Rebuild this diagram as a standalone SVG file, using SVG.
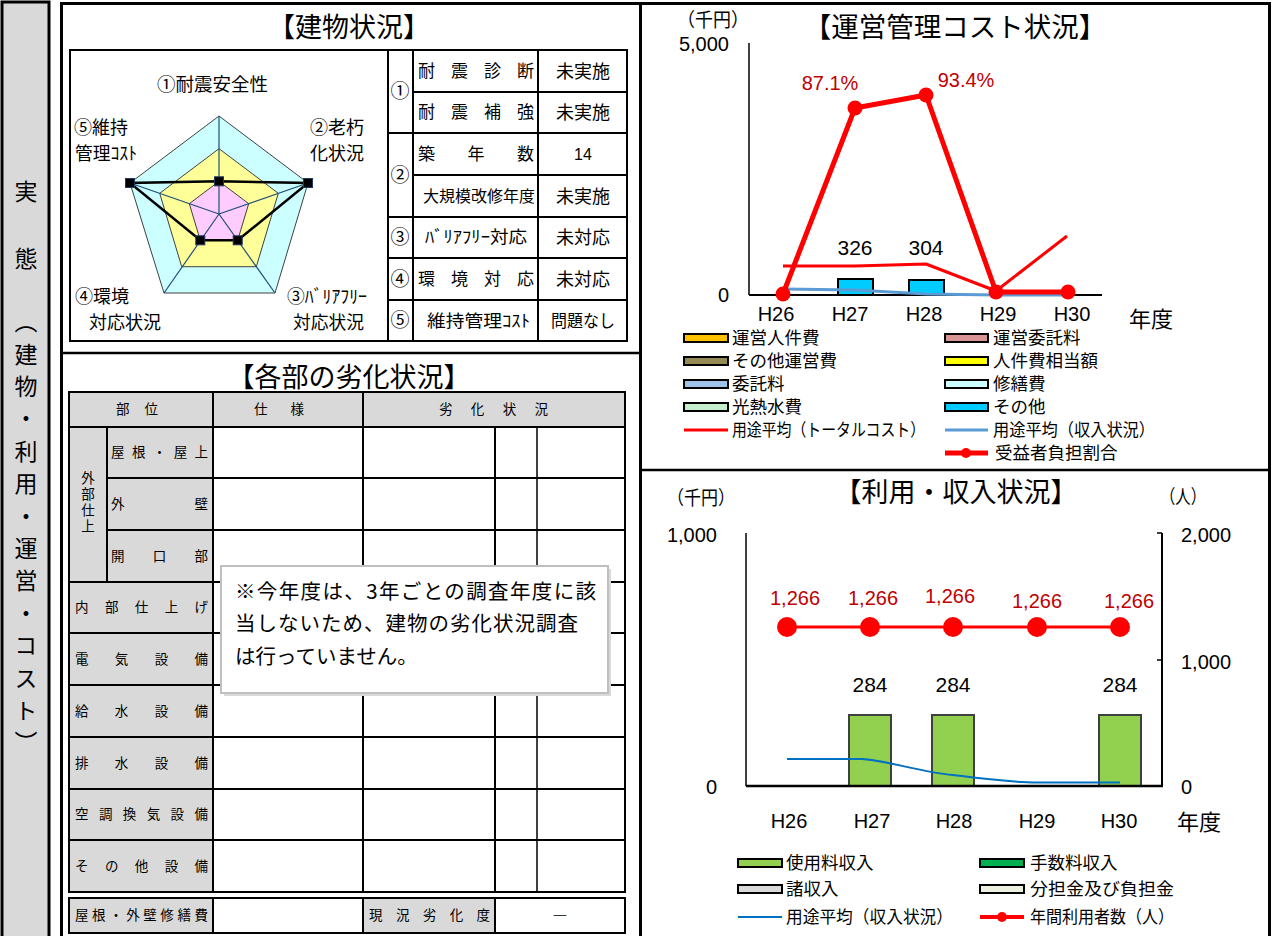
<svg xmlns="http://www.w3.org/2000/svg" width="1273" height="936" viewBox="0 0 1273 936">
<style>
.jp{font-family:"Noto Sans CJK JP","Noto Sans",sans-serif;fill:#000}
.num{font-family:"Liberation Sans","Noto Sans CJK JP",sans-serif;fill:#000}
.mid{text-anchor:middle}
.end{text-anchor:end}
.red{fill:#c00000}
.gray{fill:#d9d9d9}
.cell{fill:none;stroke:#000;stroke-width:2}
.thin{stroke:#000;stroke-width:1.5;fill:none}
.sw{stroke:#000;stroke-width:2}
.lab{font-size:13.5px}
.rl{font-size:18px}
.leg{font-size:17.5px}
.ax{font-size:20px}
</style>

<g id="side">
  <rect x="2" y="2" width="47" height="945" fill="#d9d9d9" stroke="#000" stroke-width="3"/>
  <text class="jp mid" x="26" y="200" font-size="23">実</text>
  <text class="jp mid" x="26" y="267" font-size="23">態</text>
  <text class="jp" x="26" y="310" font-size="23" letter-spacing="9.4" style="writing-mode:vertical-rl">（建物・利用・運営・コスト）</text>
</g>

<g id="frame">
  <rect x="61.5" y="3.5" width="1208" height="945" fill="none" stroke="#000" stroke-width="3"/>
  <line x1="640.5" y1="3" x2="640.5" y2="936" stroke="#000" stroke-width="3"/>
  <line x1="61" y1="353" x2="640" y2="353" stroke="#000" stroke-width="2.5"/>
  <line x1="640" y1="470" x2="1270" y2="470" stroke="#000" stroke-width="2.5"/>
</g>

<g id="building-status">
  <text class="jp mid" x="349" y="37" font-size="27">【建物状況】</text>
  <rect x="70" y="50" width="318" height="291" class="cell"/>
  <g id="radar">
    <polygon points="219,116 308,183 275,293 164,293 130,183" fill="#ccffff" stroke="#404040" stroke-width="1"/>
    <polygon points="219,148.7 278.3,193.3 256.3,266.7 181.7,266.7 159.7,193.3" fill="#ffff99" stroke="#404040" stroke-width="1"/>
    <polygon points="219,181.3 248.7,203.7 237.7,240.3 200.3,240.3 189.3,203.7" fill="#ffccff" stroke="#404040" stroke-width="1"/>
    <g stroke="#1f4e79" stroke-width="1.2">
      <line x1="219" y1="214" x2="219" y2="116"/>
      <line x1="219" y1="214" x2="308" y2="183"/>
      <line x1="219" y1="214" x2="275" y2="293"/>
      <line x1="219" y1="214" x2="164" y2="293"/>
      <line x1="219" y1="214" x2="130" y2="183"/>
    </g>
    <polygon points="219,181.3 308,183 237.7,240.3 200.3,240.3 130,183" fill="none" stroke="#000" stroke-width="2.5"/>
    <g fill="#000" stroke="#1f3864" stroke-width="1">
      <rect x="214.5" y="176.8" width="9" height="9"/>
      <rect x="303.5" y="178.5" width="9" height="9"/>
      <rect x="233.2" y="235.8" width="9" height="9"/>
      <rect x="195.8" y="235.8" width="9" height="9"/>
      <rect x="125.5" y="178.5" width="9" height="9"/>
    </g>
    <text class="jp rl" x="157" y="91" textLength="111" lengthAdjust="spacingAndGlyphs">①耐震安全性</text>
    <text class="jp rl" x="74" y="134">⑤維持</text>
    <text class="jp rl" x="75" y="160" textLength="62" lengthAdjust="spacingAndGlyphs">管理ｺｽﾄ</text>
    <text class="jp rl end" x="364" y="134">②老朽</text>
    <text class="jp rl end" x="364" y="160">化状況</text>
    <text class="jp rl" x="75" y="303">④環境</text>
    <text class="jp rl" x="89" y="329" textLength="72" lengthAdjust="spacingAndGlyphs">対応状況</text>
    <text class="jp rl" x="287" y="303" textLength="80" lengthAdjust="spacingAndGlyphs">③ﾊﾞﾘｱﾌﾘｰ</text>
    <text class="jp rl" x="293" y="329" textLength="71" lengthAdjust="spacingAndGlyphs">対応状況</text>
  </g>
  <g id="status-table">
    <rect x="388" y="50" width="239" height="291" class="cell"/>
    <line x1="413" y1="50" x2="413" y2="341" class="cell"/>
    <line x1="538" y1="50" x2="538" y2="341" class="cell"/>
    <line x1="413" y1="92" x2="627" y2="92" class="cell"/>
    <line x1="388" y1="133" x2="627" y2="133" class="cell"/>
    <line x1="413" y1="175" x2="627" y2="175" class="cell"/>
    <line x1="388" y1="217" x2="627" y2="217" class="cell"/>
    <line x1="388" y1="258" x2="627" y2="258" class="cell"/>
    <line x1="388" y1="300" x2="627" y2="300" class="cell"/>
    <text class="jp mid" x="400" y="98" font-size="19">①</text>
    <text class="jp mid" x="400" y="182" font-size="19">②</text>
    <text class="jp mid" x="400" y="244" font-size="19">③</text>
    <text class="jp mid" x="400" y="286" font-size="19">④</text>
    <text class="jp mid" x="400" y="327" font-size="19">⑤</text>
    <text class="jp" x="418" y="77" font-size="17" textLength="116" lengthAdjust="spacing">耐震診断</text>
    <text class="jp" x="418" y="118" font-size="17" textLength="116" lengthAdjust="spacing">耐震補強</text>
    <text class="jp" x="418" y="160" font-size="17" textLength="116" lengthAdjust="spacing">築年数</text>
    <text class="jp" x="423" y="202" font-size="15.5" textLength="112" lengthAdjust="spacingAndGlyphs">大規模改修年度</text>
    <text class="jp" x="425" y="243" font-size="17" textLength="102" lengthAdjust="spacingAndGlyphs">ﾊﾞﾘｱﾌﾘｰ対応</text>
    <text class="jp" x="418" y="285" font-size="17" textLength="116" lengthAdjust="spacing">環境対応</text>
    <text class="jp" x="427" y="327" font-size="17" textLength="103" lengthAdjust="spacingAndGlyphs">維持管理ｺｽﾄ</text>
    <text class="jp mid" x="583" y="78" font-size="18">未実施</text>
    <text class="jp mid" x="583" y="119" font-size="18">未実施</text>
    <text class="num mid" x="583" y="160" font-size="16">14</text>
    <text class="jp mid" x="583" y="203" font-size="18">未実施</text>
    <text class="jp mid" x="583" y="244" font-size="18">未対応</text>
    <text class="jp mid" x="583" y="286" font-size="18">未対応</text>
    <text class="jp mid" x="583" y="327" font-size="17" textLength="64" lengthAdjust="spacingAndGlyphs">問題なし</text>
  </g>
</g>

<g id="deterioration">
  <text class="jp mid" x="349" y="387" font-size="27">【各部の劣化状況】</text>
  <rect x="69" y="392" width="144" height="500" class="gray"/>
  <rect x="69" y="392" width="556" height="35" class="gray"/>
  <rect x="69" y="898" width="144" height="35" class="gray"/>
  <rect x="363" y="898" width="132" height="35" class="gray"/>
  <rect x="69" y="392" width="556" height="500" class="cell"/>
  <rect x="69" y="898" width="556" height="35" class="cell"/>
  <line x1="69" y1="427" x2="625" y2="427" class="cell"/>
  <line x1="107" y1="478" x2="625" y2="478" class="cell"/>
  <line x1="107" y1="530" x2="625" y2="530" class="cell"/>
  <line x1="69" y1="582" x2="625" y2="582" class="cell"/>
  <line x1="69" y1="633" x2="625" y2="633" class="cell"/>
  <line x1="69" y1="685" x2="625" y2="685" class="cell"/>
  <line x1="69" y1="737" x2="625" y2="737" class="cell"/>
  <line x1="69" y1="789" x2="625" y2="789" class="cell"/>
  <line x1="69" y1="840" x2="625" y2="840" class="cell"/>
  <line x1="107" y1="427" x2="107" y2="582" class="cell"/>
  <line x1="213" y1="392" x2="213" y2="892" class="cell"/>
  <line x1="363" y1="392" x2="363" y2="892" class="cell"/>
  <line x1="495" y1="427" x2="495" y2="892" class="cell"/>
  <line x1="537" y1="427" x2="537" y2="892" class="thin"/>
  <line x1="213" y1="898" x2="213" y2="933" class="cell"/>
  <line x1="363" y1="898" x2="363" y2="933" class="cell"/>
  <line x1="495" y1="898" x2="495" y2="933" class="cell"/>
  <text class="jp lab" x="116" y="414" textLength="42" lengthAdjust="spacing">部位</text>
  <text class="jp lab" x="254" y="414" textLength="50" lengthAdjust="spacing">仕様</text>
  <text class="jp lab" x="439" y="414" textLength="109" lengthAdjust="spacing">劣化状況</text>
  <text class="jp lab" x="88" y="471" letter-spacing="2.5" style="writing-mode:vertical-rl">外部仕上</text>
  <text class="jp lab" x="111" y="457" textLength="97" lengthAdjust="spacing">屋根・屋上</text>
  <text class="jp lab" x="111" y="509" textLength="97" lengthAdjust="spacing">外壁</text>
  <text class="jp lab" x="111" y="561" textLength="97" lengthAdjust="spacing">開口部</text>
  <text class="jp lab" x="75" y="612" textLength="133" lengthAdjust="spacing">内部仕上げ</text>
  <text class="jp lab" x="75" y="664" textLength="133" lengthAdjust="spacing">電気設備</text>
  <text class="jp lab" x="75" y="716" textLength="133" lengthAdjust="spacing">給水設備</text>
  <text class="jp lab" x="75" y="768" textLength="133" lengthAdjust="spacing">排水設備</text>
  <text class="jp lab" x="75" y="819" textLength="133" lengthAdjust="spacing">空調換気設備</text>
  <text class="jp lab" x="75" y="871" textLength="133" lengthAdjust="spacing">その他設備</text>
  <text class="jp lab" x="75" y="920" textLength="133" lengthAdjust="spacing">屋根・外壁修繕費</text>
  <text class="jp lab" x="369" y="920" textLength="121" lengthAdjust="spacing">現況劣化度</text>
  <text class="jp mid" x="560" y="921" font-size="15">―</text>
</g>

<g id="note">
  <rect x="224" y="569" width="387" height="127" fill="#d9d9d9"/>
  <rect x="221" y="566" width="387" height="127" fill="#fff" stroke="#bfbfbf" stroke-width="2"/>
  <text class="jp" x="235" y="599" font-size="20.5" textLength="361" lengthAdjust="spacing">※今年度は、3年ごとの調査年度に該</text>
  <text class="jp" x="235" y="631" font-size="20.5" textLength="343" lengthAdjust="spacing">当しないため、建物の劣化状況調査</text>
  <text class="jp" x="235" y="664" font-size="20.5">は行っていません。</text>
</g>

<g id="cost-chart">
  <text class="jp" x="677" y="27" font-size="19" textLength="72" lengthAdjust="spacingAndGlyphs">（千円）</text>
  <text class="jp mid" x="955" y="37" font-size="27.5">【運営管理コスト状況】</text>
  <text class="num end" x="729" y="51" font-size="20">5,000</text>
  <text class="num end" x="729" y="302" font-size="20">0</text>
  <line x1="749" y1="43" x2="749" y2="295" class="thin"/>
  <rect x="838" y="279" width="35" height="16" fill="#00ccff" stroke="#000" stroke-width="2"/>
  <rect x="909" y="280" width="35" height="15" fill="#00ccff" stroke="#000" stroke-width="2"/>
  <line x1="749" y1="295" x2="1102" y2="295" stroke="#000" stroke-width="2"/>
  <g id="cost-series" fill="none" stroke-linejoin="round">
    <polyline points="783,289 855,290 926,294 996,295 1068,295" stroke="#5b9bd5" stroke-width="3"/>
    <polyline points="783,266 855,266 926,264 996,291 1067,236" stroke="#ff0000" stroke-width="3"/>
    <polyline points="783,294 855,108 926,95 996,292 1068,292" stroke="#ff0000" stroke-width="5"/>
    <g fill="#ff0000">
      <circle cx="783" cy="294" r="7.5"/>
      <circle cx="855" cy="108" r="7.5"/>
      <circle cx="926" cy="95" r="7.5"/>
      <circle cx="996" cy="292" r="7.5"/>
      <circle cx="1068" cy="292" r="7.5"/>
    </g>
  </g>
  <text class="num mid red" x="830" y="90" font-size="20">87.1%</text>
  <text class="num mid red" x="966" y="87" font-size="20">93.4%</text>
  <text class="num mid" x="855" y="255" font-size="21">326</text>
  <text class="num mid" x="926" y="255" font-size="21">304</text>
  <text class="num mid ax" x="776" y="321">H26</text>
  <text class="num mid ax" x="850" y="321">H27</text>
  <text class="num mid ax" x="924" y="321">H28</text>
  <text class="num mid ax" x="998" y="321">H29</text>
  <text class="num mid ax" x="1072" y="321">H30</text>
  <text class="jp" x="1129" y="327" font-size="22">年度</text>
</g>

<g id="cost-legend">
  <rect x="684" y="334" width="44" height="8" fill="#ffc000" class="sw"/>
  <text class="jp leg" x="732" y="344">運営人件費</text>
  <rect x="945" y="334" width="43" height="8" fill="#d99594" class="sw"/>
  <text class="jp leg" x="993" y="344">運営委託料</text>
  <rect x="684" y="357" width="44" height="8" fill="#948a54" class="sw"/>
  <text class="jp leg" x="732" y="367">その他運営費</text>
  <rect x="945" y="357" width="43" height="8" fill="#ffff00" class="sw"/>
  <text class="jp leg" x="993" y="367">人件費相当額</text>
  <rect x="684" y="380" width="44" height="8" fill="#9dc3e6" class="sw"/>
  <text class="jp leg" x="732" y="390">委託料</text>
  <rect x="945" y="380" width="43" height="8" fill="#ccffff" class="sw"/>
  <text class="jp leg" x="993" y="390">修繕費</text>
  <rect x="684" y="403" width="44" height="8" fill="#c6efce" class="sw"/>
  <text class="jp leg" x="732" y="413">光熱水費</text>
  <rect x="945" y="403" width="43" height="8" fill="#00ccff" class="sw"/>
  <text class="jp leg" x="993" y="413">その他</text>
  <line x1="684" y1="430" x2="728" y2="430" stroke="#ff0000" stroke-width="3"/>
  <text class="jp leg" x="732" y="436" textLength="193" lengthAdjust="spacingAndGlyphs">用途平均（トータルコスト）</text>
  <line x1="945" y1="430" x2="988" y2="430" stroke="#5b9bd5" stroke-width="3"/>
  <text class="jp leg" x="993" y="436" textLength="162" lengthAdjust="spacingAndGlyphs">用途平均（収入状況）</text>
  <line x1="945" y1="453" x2="988" y2="453" stroke="#ff0000" stroke-width="5"/>
  <circle cx="966" cy="453" r="5" fill="#ff0000"/>
  <text class="jp leg" x="995" y="459">受益者負担割合</text>
</g>

<g id="usage-chart">
  <text class="jp" x="667" y="505" font-size="19" textLength="68" lengthAdjust="spacingAndGlyphs">（千円）</text>
  <text class="jp mid" x="956" y="502" font-size="27">【利用・収入状況】</text>
  <text class="jp" x="1160" y="504" font-size="19" textLength="46" lengthAdjust="spacingAndGlyphs">（人）</text>
  <text class="num end" x="717" y="542" font-size="20">1,000</text>
  <text class="num end" x="717" y="794" font-size="20">0</text>
  <text class="num" x="1181" y="542" font-size="20">2,000</text>
  <text class="num" x="1181" y="669" font-size="20">1,000</text>
  <text class="num" x="1181" y="794" font-size="20">0</text>
  <line x1="746" y1="533" x2="746" y2="786" class="thin"/>
  <line x1="1162" y1="533" x2="1162" y2="786" stroke="#000" stroke-width="2"/>
  <g stroke="#000" stroke-width="1.5">
    <line x1="1157" y1="533" x2="1162" y2="533"/>
    <line x1="1157" y1="660" x2="1162" y2="660"/>
  </g>
  <g fill="#92d050" stroke="#404040" stroke-width="2">
    <rect x="849" y="715" width="42" height="71"/>
    <rect x="932" y="715" width="42" height="71"/>
    <rect x="1099" y="715" width="42" height="71"/>
  </g>
  <line x1="746" y1="786" x2="1163" y2="786" stroke="#000" stroke-width="2.5"/>
  <g id="usage-series" fill="none">
    <path d="M787,759 L862,759 C885,760 920,772 953,775 C985,779 1010,782.5 1037,782.5 L1120,782.5" stroke="#0070c0" stroke-width="2"/>
    <line x1="787" y1="627" x2="1120" y2="627" stroke="#ff0000" stroke-width="3"/>
    <g fill="#ff0000">
      <ellipse cx="787" cy="627" rx="10" ry="10"/>
      <ellipse cx="870" cy="627" rx="10" ry="10"/>
      <ellipse cx="953" cy="627" rx="10" ry="10"/>
      <ellipse cx="1037" cy="627" rx="10" ry="10"/>
      <ellipse cx="1120" cy="627" rx="10" ry="10"/>
    </g>
  </g>
  <text class="num mid red" x="795" y="605" font-size="20">1,266</text>
  <text class="num mid red" x="873" y="605" font-size="20">1,266</text>
  <text class="num mid red" x="950" y="603" font-size="20">1,266</text>
  <text class="num mid red" x="1037" y="608" font-size="20">1,266</text>
  <text class="num mid red" x="1129" y="608" font-size="20">1,266</text>
  <text class="num mid" x="870" y="692" font-size="21">284</text>
  <text class="num mid" x="953" y="692" font-size="21">284</text>
  <text class="num mid" x="1120" y="692" font-size="21">284</text>
  <text class="num mid ax" x="789" y="828">H26</text>
  <text class="num mid ax" x="872" y="828">H27</text>
  <text class="num mid ax" x="954" y="828">H28</text>
  <text class="num mid ax" x="1037" y="828">H29</text>
  <text class="num mid ax" x="1119" y="828">H30</text>
  <text class="jp mid" x="1199" y="830" font-size="22">年度</text>
</g>

<g id="usage-legend">
  <rect x="738" y="859" width="44" height="8" fill="#92d050" class="sw"/>
  <text class="jp leg" x="786" y="869">使用料収入</text>
  <rect x="980" y="859" width="44" height="8" fill="#00b050" class="sw"/>
  <text class="jp leg" x="1030" y="869">手数料収入</text>
  <rect x="738" y="885" width="44" height="8" fill="#d9d9d9" class="sw"/>
  <text class="jp leg" x="786" y="895">諸収入</text>
  <rect x="980" y="885" width="44" height="8" fill="#ebf1de" class="sw"/>
  <text class="jp leg" x="1030" y="895" textLength="144" lengthAdjust="spacingAndGlyphs">分担金及び負担金</text>
  <line x1="738" y1="917" x2="782" y2="917" stroke="#0070c0" stroke-width="2"/>
  <text class="jp leg" x="786" y="923" textLength="167" lengthAdjust="spacingAndGlyphs">用途平均（収入状況）</text>
  <line x1="980" y1="917" x2="1024" y2="917" stroke="#ff0000" stroke-width="4"/>
  <circle cx="1002" cy="917" r="5" fill="#ff0000"/>
  <text class="jp leg" x="1030" y="923" textLength="144" lengthAdjust="spacingAndGlyphs">年間利用者数（人）</text>
</g>
</svg>
